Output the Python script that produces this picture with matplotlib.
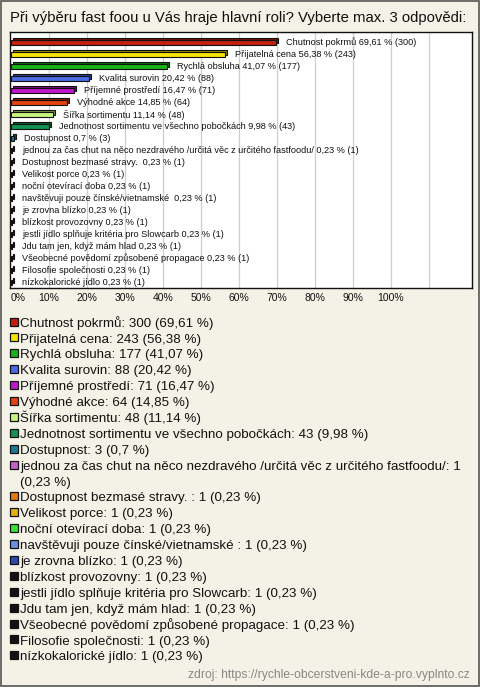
import matplotlib
matplotlib.use("Agg")
import matplotlib.pyplot as plt
from matplotlib.transforms import ScaledTranslation
from matplotlib.patches import Rectangle

title = "Při výběru fast foou u Vás hraje hlavní roli? Vyberte max. 3 odpovědi:"
labels = [
    "Chutnost pokrmů",
    "Přijatelná cena",
    "Rychlá obsluha",
    "Kvalita surovin",
    "Příjemné prostředí",
    "Výhodné akce",
    "Šířka sortimentu",
    "Jednotnost sortimentu ve všechno pobočkách",
    "Dostupnost",
    "jednou za čas chut na něco nezdravého /určitá věc z určitého fastfoodu/",
    "Dostupnost bezmasé stravy. ",
    "Velikost porce",
    "noční otevírací doba",
    "navštěvuji pouze čínské/vietnamské ",
    "je zrovna blízko",
    "blízkost provozovny",
    "jestli jídlo splňuje kritéria pro Slowcarb",
    "Jdu tam jen, když mám hlad",
    "Všeobecné povědomí způsobené propagace",
    "Filosofie společnosti",
    "nízkokalorické jídlo",
]
counts = [300, 243, 177, 88, 71, 64, 48, 43, 3] + [1] * 12
percents = [69.61, 56.38, 41.07, 20.42, 16.47, 14.85, 11.14, 9.98, 0.7] + [0.23] * 12
colors = [
    "#c4200e", "#f6e400", "#16b416", "#4a6ae6", "#c216cc", "#e4420e",
    "#c8f47e", "#149254", "#1a7c98", "#c462c4", "#e6760e", "#e4b20e",
    "#3ee032", "#6a90e0", "#2a4aae",
] + ["#111111"] * 6
xticks = [0, 10, 20, 30, 40, 50, 60, 70, 80, 90, 100]
source = "zdroj: https://rychle-obcerstveni-kde-a-pro.vyplnto.cz"


def fmt(p):
    s = ("%.2f" % p).rstrip("0").rstrip(".")
    return s.replace(".", ",")


def darker(c, f=0.6):
    r, g, b = matplotlib.colors.to_rgb(c)
    return (r * f, g * f, b * f)


W, H = 480, 687
BG = "#f4f2e7"
fig = plt.figure(figsize=(W / 100, H / 100), dpi=100, facecolor=BG)

# overlay axes in pixel coordinates
ov = fig.add_axes([0, 0, 1, 1], zorder=0)
ov.set_xlim(0, W)
ov.set_ylim(H, 0)
ov.axis("off")
ov.add_patch(Rectangle((0.5, 0.5), W - 1.5, H - 1.5, fill=False, ec="#555555", lw=1.2))

FONT = "Liberation Sans"
ov.text(10, 18, title, fontsize=10.7, family=FONT, va="center", ha="left", color="#111111")

# plot area
L, R, T, B = 10, 472, 32, 288
ax = fig.add_axes([L / W, 1 - B / H, (R - L) / W, (B - T) / H], zorder=1)
ax.set_facecolor("white")
pxx = 3.8  # px per percent
x0 = 11
ax.set_xlim((L - x0) / pxx, (R - x0) / pxx)
row = 12.0
c0 = 42.5
ax.set_ylim((B - c0) / row, (T - c0) / row)
for s in ax.spines.values():
    s.set_color("#111111")
    s.set_linewidth(1.0)
ax.set_xticks([])
ax.set_yticks([])
for g in range(10, 120, 10):
    ax.axvline(g, color="#cfcfcf", lw=0.9, zorder=0)

n = len(labels)
ys = list(range(n))
h = 0.38
off = ScaledTranslation(2 / 100, 2 / 100, fig.dpi_scale_trans)
ax.barh(ys, percents, height=h, color=[darker(c) for c in colors], edgecolor="#111111",
        lw=0.8, transform=ax.transData + off, zorder=2)
ax.barh(ys, percents, height=h, color=colors, edgecolor="#111111", lw=0.8, zorder=3)
for i in range(n):
    ax.text(percents[i] + 10 / pxx, ys[i], "%s %s %% (%d)" % (labels[i], fmt(percents[i]), counts[i]),
            fontsize=6.6, family=FONT, va="center", ha="left", color="#111111", zorder=4)

# tick labels
for t in xticks:
    xp = x0 + t * pxx
    ov.text(xp if t else 11, 298, "%d%%" % t, fontsize=7.5, family=FONT,
            ha="center" if t else "left", va="center", color="#111111")

# legend
fig.canvas.draw()
renderer = fig.canvas.get_renderer()
ly = 322
lstep = 15.9
maxw = 462 - 20
LFS = 9.6
for i in range(n):
    txt = "%s: %d (%s %%)" % (labels[i], counts[i], fmt(percents[i]))
    words = txt.split(" ")
    lines = []
    cur = ""
    for wd in words:
        cand = wd if not cur else cur + " " + wd
        t = ov.text(0, 0, cand, fontsize=LFS, family=FONT)
        wpx = t.get_window_extent(renderer).width
        t.remove()
        if wpx > maxw and cur:
            lines.append(cur)
            cur = wd
        else:
            cur = cand
    lines.append(cur)
    ov.add_patch(Rectangle((10, ly - 4.5), 8, 8, fc=colors[i], ec="#111111", lw=0.9))
    for ln in lines:
        ov.text(20, ly + 4.6, ln, fontsize=LFS, family=FONT, va="baseline", ha="left", color="#111111")
        ly += lstep

ov.text(470, 675, source, fontsize=8.75, family=FONT, va="center", ha="right", color="#888888")

fig.savefig("out.png", dpi=100, facecolor=BG)
